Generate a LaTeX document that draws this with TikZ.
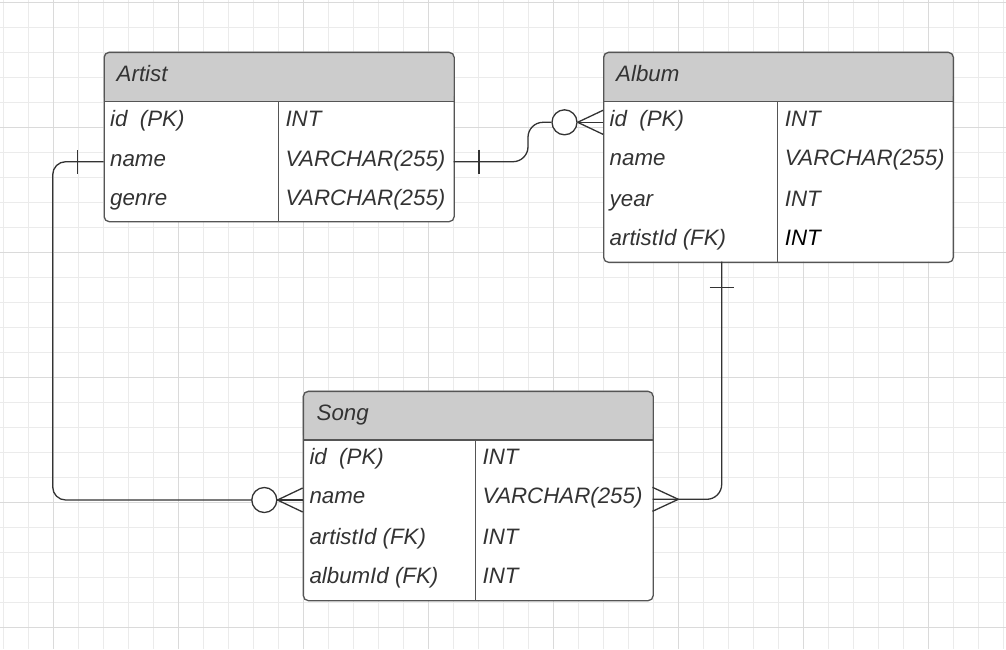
\documentclass[tikz,border=0pt]{standalone}
\usepackage{fontspec}
\setmainfont{Liberation Sans}
\usetikzlibrary{calc}
\definecolor{gridminor}{HTML}{EBEBEB}
\definecolor{gridmajor}{HTML}{DADADA}
\definecolor{hdrfill}{HTML}{CCCCCC}
\definecolor{edgecol}{HTML}{555555}
\definecolor{inkcol}{HTML}{333333}
\definecolor{linkcol}{HTML}{333333}
\tikzset{
  txt/.style={inner sep=0pt, anchor=base west, text=inkcol,
    font=\fontsize{22.3pt}{26pt}\selectfont\itshape},
  tblbox/.style={draw=edgecol, line width=1.3pt, rounded corners=5pt,
    inner sep=0pt, anchor=north west},
  sepline/.style={draw=edgecol, line width=1.3pt},
  conn/.style={draw=linkcol, line width=1.3pt},
  ringend/.style={circle, draw=linkcol, line width=1.3pt, fill=white,
    minimum size=25pt, inner sep=0pt},
}
% #1 name, #2 x1, #3 y1, #4 x2, #5 y2, #6 header bottom, #7 divider x
\newcommand{\ertbl}[7]{%
  \fill[white, rounded corners=5pt] (#2,#3) rectangle (#4,#5);
  \fill[hdrfill, rounded corners=5pt] (#2,#3) rectangle (#4,#6);
  \fill[hdrfill] (#2,#6-6) rectangle (#4,#6);
  \draw[sepline] (#2,#6) -- (#4,#6);
  \draw[sepline] (#7,#6) -- (#7,#5);
  \node[tblbox, minimum width={(#4-#2)*1pt}, minimum height={(#5-#3)*1pt}]
    (#1) at (#2,#3) {};
}
\begin{document}
\begin{tikzpicture}[x=1pt,y=-1pt]
\useasboundingbox (0,0) rectangle (1006,649);
\fill[white] (0,0) rectangle (1006,649);
% grid
\foreach \gx in {3,28,...,1003} \draw[gridminor, line width=1pt] (\gx,0) -- (\gx,649);
\foreach \gy in {2,27,...,649} \draw[gridminor, line width=1pt] (0,\gy) -- (1006,\gy);
\foreach \gx in {53,178,...,1003} \draw[gridmajor, line width=1pt] (\gx,0) -- (\gx,649);
\foreach \gy in {2,127,...,649} \draw[gridmajor, line width=1pt] (0,\gy) -- (1006,\gy);

% tables
\ertbl{artist}{103.5}{51.7}{453.5}{221}{101.7}{278.3}
\ertbl{album}{603}{51.7}{952.7}{261.7}{101.7}{777.3}
\ertbl{song}{302.7}{390.7}{652.5}{600}{440}{475.7}

% Artist texts
\node[txt] (artistT) at (116.5,81.7) {Artist};
\node[txt] (artistR1) at (110,126.5) {id\ \ (PK)};
\node[txt] (artistR2) at (110,166.2) {name};
\node[txt] (artistR3) at (110,205.5) {genre};
\node[txt] (artistC1) at (285.3,126.5) {INT};
\node[txt] (artistC2) at (285.3,166.2) {VARCHAR(255)};
\node[txt] (artistC3) at (285.3,205.5) {VARCHAR(255)};

% Album texts
\node[txt] (albumT) at (616,81.7) {Album};
\node[txt] (albumR1) at (609.5,126.2) {id\ \ (PK)};
\node[txt] (albumR2) at (609.5,165.8) {name};
\node[txt] (albumR3) at (609.5,206) {year};
\node[txt] (albumR4) at (609.5,245.3) {artistId (FK)};
\node[txt] (albumC1) at (784.6,126.2) {INT};
\node[txt] (albumC2) at (784.6,165.8) {VARCHAR(255)};
\node[txt] (albumC3) at (784.6,206) {INT};
\node[txt, text=black] (albumC4) at (784.6,245.3) {INT};

% Song texts
\node[txt] (songT) at (316.5,420) {Song};
\node[txt] (songR1) at (309.3,464.3) {id\ \ (PK)};
\node[txt] (songR2) at (309.3,503.8) {name};
\node[txt] (songR3) at (309.3,544) {artistId (FK)};
\node[txt] (songR4) at (309.3,583.5) {albumId (FK)};
\node[txt] (songC1) at (482.4,464.3) {INT};
\node[txt] (songC2) at (482.4,503.8) {VARCHAR(255)};
\node[txt] (songC3) at (482.4,544) {INT};
\node[txt] (songC4) at (482.4,583.5) {INT};

% attach points
\coordinate (artNameR) at (453.5,161.7);
\coordinate (artNameL) at (103.5,161.7);
\coordinate (albIdL) at (603,122.3);
\coordinate (albBot) at (721.7,261.7);
\coordinate (songNameL) at (302.7,500);
\coordinate (songNameR) at (652.5,499.3);

% Artist -- Album (one to zero-or-many)
\node[ringend] (ring1) at (564.5,122.3) {};
\draw[conn, rounded corners=15pt] (artNameR) -- (528,161.7) -- (528,122.3) -- (ring1.west);
\draw[conn] (479,149.7) -- (479,173.7);
\draw[conn] (ring1.east) -- (albIdL);
\draw[conn] (ring1.east) -- ($(albIdL)+(0,-12)$);
\draw[conn] (ring1.east) -- ($(albIdL)+(0,12)$);

% Artist -- Song (one to zero-or-many)
\node[ringend] (ring2) at (264.3,500) {};
\draw[conn, rounded corners=13pt] (artNameL) -- (52.7,161.7) -- (52.7,500) -- (ring2.west);
\draw[conn] (77.7,150) -- (77.7,173.5);
\draw[conn] (ring2.east) -- (songNameL);
\draw[conn] (ring2.east) -- ($(songNameL)+(0,-12)$);
\draw[conn] (ring2.east) -- ($(songNameL)+(0,12)$);

% Album -- Song (one to many)
\coordinate (foot3) at (678.3,499.3);
\draw[conn, rounded corners=15pt] (albBot) -- (721.7,499.3) -- (songNameR);
\draw[conn] (709.5,287.7) -- (734,287.7);
\draw[conn] (foot3) -- ($(songNameR)+(0,-12)$);
\draw[conn] (foot3) -- ($(songNameR)+(0,12)$);
\end{tikzpicture}
\end{document}
